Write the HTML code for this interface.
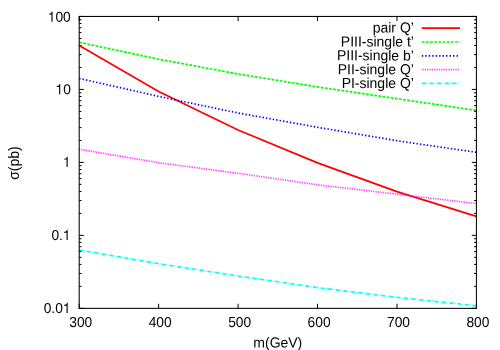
<!DOCTYPE html>
<html><head><meta charset="utf-8"><title>plot</title>
<style>html,body{margin:0;padding:0;background:#fff}svg{display:block;will-change:transform}text{font-family:"Liberation Sans",sans-serif;font-size:14px;fill:#000}</style></head><body>
<svg width="500" height="350" viewBox="0 0 500 350">
<rect width="500" height="350" fill="#fff"/>
<path d="M79.2 308.35h4.6M476.4 308.35h-4.6M79.2 286.38h2.3M476.4 286.38h-2.3M79.2 273.53h2.3M476.4 273.53h-2.3M79.2 264.41h2.3M476.4 264.41h-2.3M79.2 257.34h2.3M476.4 257.34h-2.3M79.2 251.56h2.3M476.4 251.56h-2.3M79.2 246.68h2.3M476.4 246.68h-2.3M79.2 242.45h2.3M476.4 242.45h-2.3M79.2 238.71h2.3M476.4 238.71h-2.3M79.2 235.38h4.6M476.4 235.38h-4.6M79.2 213.41h2.3M476.4 213.41h-2.3M79.2 200.56h2.3M476.4 200.56h-2.3M79.2 191.44h2.3M476.4 191.44h-2.3M79.2 184.37h2.3M476.4 184.37h-2.3M79.2 178.59h2.3M476.4 178.59h-2.3M79.2 173.70h2.3M476.4 173.70h-2.3M79.2 169.47h2.3M476.4 169.47h-2.3M79.2 165.74h2.3M476.4 165.74h-2.3M79.2 162.40h4.6M476.4 162.40h-4.6M79.2 140.43h2.3M476.4 140.43h-2.3M79.2 127.58h2.3M476.4 127.58h-2.3M79.2 118.46h2.3M476.4 118.46h-2.3M79.2 111.39h2.3M476.4 111.39h-2.3M79.2 105.61h2.3M476.4 105.61h-2.3M79.2 100.73h2.3M476.4 100.73h-2.3M79.2 96.50h2.3M476.4 96.50h-2.3M79.2 92.76h2.3M476.4 92.76h-2.3M79.2 89.43h4.6M476.4 89.43h-4.6M79.2 67.46h2.3M476.4 67.46h-2.3M79.2 54.61h2.3M476.4 54.61h-2.3M79.2 45.49h2.3M476.4 45.49h-2.3M79.2 38.42h2.3M476.4 38.42h-2.3M79.2 32.64h2.3M476.4 32.64h-2.3M79.2 27.75h2.3M476.4 27.75h-2.3M79.2 23.52h2.3M476.4 23.52h-2.3M79.2 19.79h2.3M476.4 19.79h-2.3M79.2 16.45h4.6M476.4 16.45h-4.6M79.20 308.35v-4.6M79.20 16.45v4.6M158.64 308.35v-4.6M158.64 16.45v4.6M238.08 308.35v-4.6M238.08 16.45v4.6M317.52 308.35v-4.6M317.52 16.45v4.6M396.96 308.35v-4.6M396.96 16.45v4.6M476.40 308.35v-4.6M476.40 16.45v4.6" stroke="#000" stroke-width="1" fill="none"/>
<polyline points="79.20,45.60 158.64,91.40 238.08,130.00 317.52,162.90 396.96,191.60 476.40,216.40" stroke="#ff0000" stroke-width="1.7" fill="none"/>
<polyline points="79.20,42.30 158.64,59.20 238.08,74.00 317.52,86.90 396.96,98.70 476.40,110.40" stroke="#00ff00" stroke-width="1.7" fill="none" stroke-dasharray="2.7768 1.3884"/>
<polyline points="79.20,78.40 158.64,96.40 238.08,113.00 317.52,127.30 396.96,140.70 476.40,152.30" stroke="#0000ff" stroke-width="1.7" fill="none" stroke-dasharray="1.3884 2.0826"/>
<polyline points="79.20,149.20 158.64,162.70 238.08,173.30 317.52,184.80 396.96,194.20 476.40,203.60" stroke="#ff00ff" stroke-width="1.7" fill="none" stroke-dasharray="0.6942 1.0413"/>
<polyline points="79.20,250.00 158.64,263.70 238.08,276.00 317.52,287.60 396.96,297.40 476.40,305.80" stroke="#00ffff" stroke-width="1.7" fill="none" stroke-dasharray="4.1652 1.3884 0.6942 1.3884"/>
<rect x="79.2" y="16.45" width="397.20" height="291.90" fill="none" stroke="#000" stroke-width="1.05"/>
<text transform="translate(413.90 32.55) rotate(0.05) scale(1 1.04)" text-anchor="end">pair Q’</text>
<path d="M421.8 28.20H460" stroke="#ff0000" stroke-width="1.7" fill="none"/>
<text transform="translate(413.90 46.60) rotate(0.05) scale(1 1.04)" text-anchor="end">PIII-single t’</text>
<path d="M421.8 42.00H460" stroke="#00ff00" stroke-width="1.7" fill="none" stroke-dasharray="2.7768 1.3884"/>
<text transform="translate(413.90 60.40) rotate(0.05) scale(1 1.04)" text-anchor="end">PIII-single b’</text>
<path d="M421.8 55.80H460" stroke="#0000ff" stroke-width="1.7" fill="none" stroke-dasharray="1.3884 2.0826"/>
<text transform="translate(413.90 74.20) rotate(0.05) scale(1 1.04)" text-anchor="end">PII-single Q’</text>
<path d="M421.8 69.60H460" stroke="#ff00ff" stroke-width="1.7" fill="none" stroke-dasharray="0.6942 1.0413"/>
<text transform="translate(413.90 88.00) rotate(0.05) scale(1 1.04)" text-anchor="end">PI-single Q’</text>
<path d="M421.8 83.40H460" stroke="#00ffff" stroke-width="1.7" fill="none" stroke-dasharray="4.1652 1.3884 0.6942 1.3884"/>
<path transform="translate(62.88 312.95) scale(0.01379 -0.01449)" d="M266 0V505H88V560C230 580 262 601 295 709H347V0Z" fill="#000"/><text transform="translate(43.71 312.95) rotate(0.05) scale(0.985 1.035)" text-anchor="start">0.0</text>
<path transform="translate(62.88 239.97) scale(0.01379 -0.01449)" d="M266 0V505H88V560C230 580 262 601 295 709H347V0Z" fill="#000"/><text transform="translate(51.38 239.97) rotate(0.05) scale(0.985 1.035)" text-anchor="start">0.</text>
<path transform="translate(62.88 166.90) scale(0.01379 -0.01449)" d="M266 0V505H88V560C230 580 262 601 295 709H347V0Z" fill="#000"/>
<text transform="translate(63.13 94.33) rotate(0.05) scale(0.985 1.035)" text-anchor="start">0</text><path transform="translate(55.46 94.33) scale(0.01379 -0.01449)" d="M266 0V505H88V560C230 580 262 601 295 709H347V0Z" fill="#000"/>
<text transform="translate(55.46 21.75) rotate(0.05) scale(0.985 1.035)" text-anchor="start">00</text><path transform="translate(47.79 21.75) scale(0.01379 -0.01449)" d="M266 0V505H88V560C230 580 262 601 295 709H347V0Z" fill="#000"/>
<text transform="translate(80.75 326.95) rotate(0.05) scale(0.985 1.035)" text-anchor="middle">300</text>
<text transform="translate(160.19 326.95) rotate(0.05) scale(0.985 1.035)" text-anchor="middle">400</text>
<text transform="translate(239.63 326.95) rotate(0.05) scale(0.985 1.035)" text-anchor="middle">500</text>
<text transform="translate(319.07 326.95) rotate(0.05) scale(0.985 1.035)" text-anchor="middle">600</text>
<text transform="translate(398.51 326.95) rotate(0.05) scale(0.985 1.035)" text-anchor="middle">700</text>
<text transform="translate(477.95 326.95) rotate(0.05) scale(0.985 1.035)" text-anchor="middle">800</text>
<text transform="translate(277.80 347.40) rotate(0.05) scale(1 1.04)" text-anchor="middle">m(GeV)</text>
<text transform="translate(18.5 163.0) rotate(-90) scale(1 1.04)" text-anchor="middle">σ(pb)</text>
</svg></body></html>
